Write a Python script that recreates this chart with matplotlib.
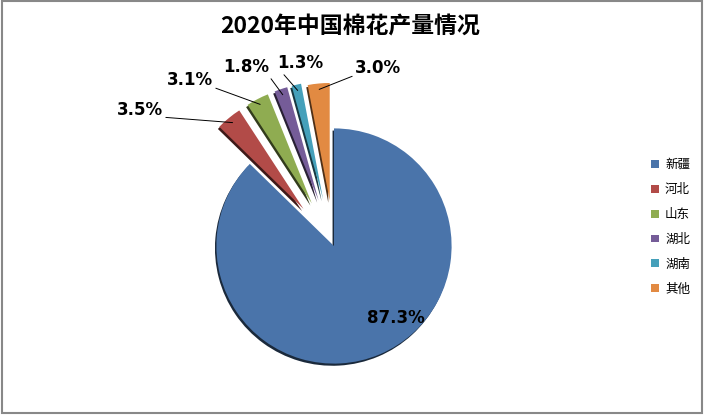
import matplotlib
matplotlib.use("Agg")
import matplotlib.pyplot as plt
from matplotlib.patches import Rectangle, Wedge
import matplotlib.colors as mcolors
import numpy as np

plt.rcParams['font.family'] = ['Noto Sans CJK SC', 'DejaVu Sans']

title = "2020年中国棉花产量情况"
provinces = ['新疆', '河北', '山东', '湖北', '湖南', '其他']
shares = [87.3, 3.5, 3.1, 1.8, 1.3, 3.0]
colors = ['#4A74AA', '#B24B48', '#8FAC51', '#755C98', '#45A0BA', '#E28A42']
explode = [0, 0.40, 0.40, 0.40, 0.40, 0.38]

# label text positions in pixels (x, y from top) and which corner the leader starts at
label_px = [None, (140, 110), (190, 80), (246, 67), (300, 63), (378, 68)]
label_rel = [None, (1.0, 0.1), (1.0, 0.1), (1.0, 0.0), (0.1, 0.0), (0.0, 0.1)]

W, H = 704, 415
cx, cy, R = 334, 246, 120   # pie centre / radius in pixels


def px(x, y):
    return ((x - cx) / R, (cy - y) / R)


fig = plt.figure(figsize=(W / 100, H / 100), dpi=100)
ax = fig.add_axes([0, 0, 1, 1])

wedges, _ = ax.pie(shares, colors=colors, explode=explode, startangle=90,
                   counterclock=False, radius=0.98,
                   wedgeprops=dict(linewidth=0, zorder=3))

# thin dark rim like the excel bevel shadow
for w, c in zip(wedges, colors):
    dark = np.array(mcolors.to_rgb(c)) * 0.35
    sh = Wedge((w.center[0] - 0.012, w.center[1] - 0.018), w.r, w.theta1, w.theta2,
               facecolor=dark, edgecolor='none', zorder=2)
    ax.add_patch(sh)

ax.set_aspect('equal')
ax.set_xlim(-cx / R, (W - cx) / R)
ax.set_ylim(-(H - cy) / R, cy / R)
ax.axis('off')

# big slice label inside
ax.text(*px(396, 318), f"{shares[0]:.1f}%", ha='center', va='center',
        fontsize=12, fontweight='bold', family=['DejaVu Sans'], zorder=5)

for i in range(1, len(shares)):
    w = wedges[i]
    mid = np.deg2rad((w.theta1 + w.theta2) / 2)
    anchor = (w.center[0] + 0.95 * w.r * np.cos(mid),
              w.center[1] + 0.95 * w.r * np.sin(mid))
    ax.annotate(f"{shares[i]:.1f}%", xy=anchor, xytext=px(*label_px[i]),
                ha='center', va='center', fontsize=12, fontweight='bold',
                family=['DejaVu Sans'], zorder=5,
                arrowprops=dict(arrowstyle='-', color='black', lw=0.7,
                                shrinkA=0, shrinkB=0, relpos=label_rel[i]))

fig.text(350 / W, 1 - 27 / H, title, ha='center', va='center',
         fontsize=16.5, fontweight='bold')

leg = ax.legend(wedges, provinces, loc='center left',
                bbox_to_anchor=(645 / W, 1 - 227 / H), bbox_transform=fig.transFigure,
                frameon=False, fontsize=9, handlelength=0.6, handleheight=0.6,
                handletextpad=0.5, labelspacing=0.95, borderpad=0)

fig.patches.append(Rectangle((1.5 / W, 2.5 / H), (W - 4) / W, (H - 4) / H,
                             transform=fig.transFigure, fill=False,
                             edgecolor='#888888', linewidth=1.5))

fig.savefig("out.png", dpi=100)
